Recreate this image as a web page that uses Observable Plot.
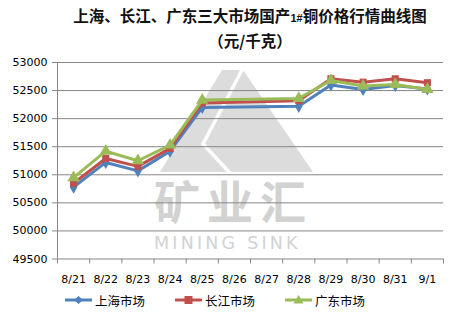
<!DOCTYPE html>
<html>
<head>
<meta charset="utf-8">
<script src="https://cdn.jsdelivr.net/npm/d3@7"></script>
<script src="https://cdn.jsdelivr.net/npm/@observablehq/plot@0.6"></script>
<style>
  html, body { margin: 0; padding: 0; background: #fff; }
  #wrap { position: relative; width: 462px; height: 317px; overflow: hidden; background: #fff; }
  #title { position: absolute; left: 0; top: 4px; width: 462px; padding-left: 38px; box-sizing: border-box;
           text-align: center; font-family: "Noto Sans CJK SC", sans-serif; font-weight: 700; font-size: 15.5px;
           line-height: 22px; color: #111; }
  #title .n { font-family: "Liberation Sans", Arial, sans-serif; font-size: 11px; font-weight: 700; }
  #wm { position: absolute; left: 0; top: 0; z-index: 0; }
  #chart { position: absolute; left: 0; top: 50px; z-index: 1; }
  #legend { position: absolute; left: 0; top: 290px; width: 462px; height: 22px; z-index: 1;
            font-family: "Noto Sans CJK SC", sans-serif; font-size: 12.5px; color: #000; }
  .item { position: absolute; top: 0; display: flex; align-items: center; height: 20px; }
  .item svg { margin-right: 3px; }
</style>
</head>
<body>
<div id="wrap">
  <svg id="wm" width="462" height="317">
    <polygon points="160,172 222,70 243,70 313,172" fill="#dcdcdc"></polygon>
    <polyline points="243,68 203,144 231,174" fill="none" stroke="#fff" stroke-width="3.5"></polyline>
    <text x="154" y="219" fill="#d2d2d2" font-family="Noto Sans CJK SC" font-weight="700" font-size="46" letter-spacing="7">矿业汇</text>
    <text x="154" y="249" fill="#d2d2d2" font-family="DejaVu Sans" font-size="17.5" letter-spacing="3.2">MINING SINK</text>
  </svg>
  <div id="title">上海、长江、广东三大市场国产<span class="n">1#</span>铜价格行情曲线图<br>（元/千克）</div>
  <div id="chart"></div>
  <div id="legend"></div>
</div>
<script>
// Category labels on the x axis
const labels = ["8/21","8/22","8/23","8/24","8/25","8/26","8/27","8/28","8/29","8/30","8/31","9/1"];
// Dates with observations
const dates = ["8/21","8/22","8/23","8/24","8/25","8/28","8/29","8/30","8/31","9/1"];
// Series values (yuan per ton)
const shanghai   = [50780, 51220, 51070, 51420, 52200, 52220, 52600, 52520, 52590, 52530];
const changjiang = [50850, 51290, 51150, 51470, 52280, 52320, 52710, 52650, 52710, 52640];
const guangdong  = [50950, 51420, 51250, 51530, 52330, 52360, 52680, 52580, 52610, 52520];
// Y tick values
const yTicks = [49500, 50000, 50500, 51000, 51500, 52000, 52500, 53000];

const seriesNames = ["上海市场", "长江市场", "广东市场"];
const seriesColors = ["#4F81BD", "#C0504D", "#9BBB59"];
const seriesSymbols = ["diamond", "square", "triangle"];
const seriesValues = [shanghai, changjiang, guangdong];

const tables = seriesValues.map((vals, s) =>
  dates.map((d, i) => ({ x: labels.indexOf(d), y: vals[i], series: seriesNames[s] })));

const seriesMarks = tables.flatMap((t, s) => [
  Plot.line(t, { x: "x", y: "y", stroke: seriesColors[s], strokeWidth: 3 }),
  Plot.dot(t, { x: "x", y: "y", fill: seriesColors[s], stroke: "none",
                symbol: seriesSymbols[s], r: s === 2 ? 4.6 : 4 })
]);

const chart = Plot.plot({
  width: 462,
  height: 240,
  marginLeft: 57,
  marginRight: 19,
  marginTop: 12,
  marginBottom: 31.5,
  x: { type: "linear", domain: [-0.5, labels.length - 0.5], axis: null },
  y: { domain: [49500, 53000], axis: null },
  style: { background: "transparent", fontFamily: "DejaVu Sans, sans-serif", fontSize: "11px", color: "#000", overflow: "visible" },
  marks: [
    Plot.ruleY(yTicks, { stroke: "#868686", strokeWidth: 1 }),
    Plot.ruleX([-0.5], { stroke: "#868686", strokeWidth: 1 }),
    Plot.axisY({ ticks: yTicks, tickSize: 5, tickPadding: 5, tickFormat: d3.format("d"), stroke: "#868686", fill: "#000", label: null }),
    Plot.axisX({ ticks: d3.range(labels.length), tickSize: 0, tickPadding: 16, tickFormat: i => labels[i], fill: "#000", label: null }),
    Plot.axisX({ ticks: d3.range(labels.length + 1).map(i => i - 0.5), tickSize: 5, tickFormat: () => "", stroke: "#868686", label: null }),
    ...seriesMarks
  ]
});
document.getElementById("chart").appendChild(chart);

// Legend
const legend = document.getElementById("legend");
const legendX = [65, 175, 285];
seriesNames.forEach((name, s) => {
  const item = document.createElement("div");
  item.className = "item";
  item.style.left = legendX[s] + "px";
  const c = seriesColors[s];
  let marker;
  if (s === 0) marker = `<polygon points="13.5,6 18,10 13.5,14 9,10" fill="${c}"/>`;
  else if (s === 1) marker = `<rect x="9.5" y="6" width="8" height="8" fill="${c}"/>`;
  else marker = `<polygon points="13.5,5 18.5,13.5 8.5,13.5" fill="${c}"/>`;
  item.innerHTML = `<svg width="27" height="20"><line x1="0" y1="10" x2="27" y2="10" stroke="${c}" stroke-width="3"/>${marker}</svg><span>${name}</span>`;
  legend.appendChild(item);
});
</script>
</body>
</html>
